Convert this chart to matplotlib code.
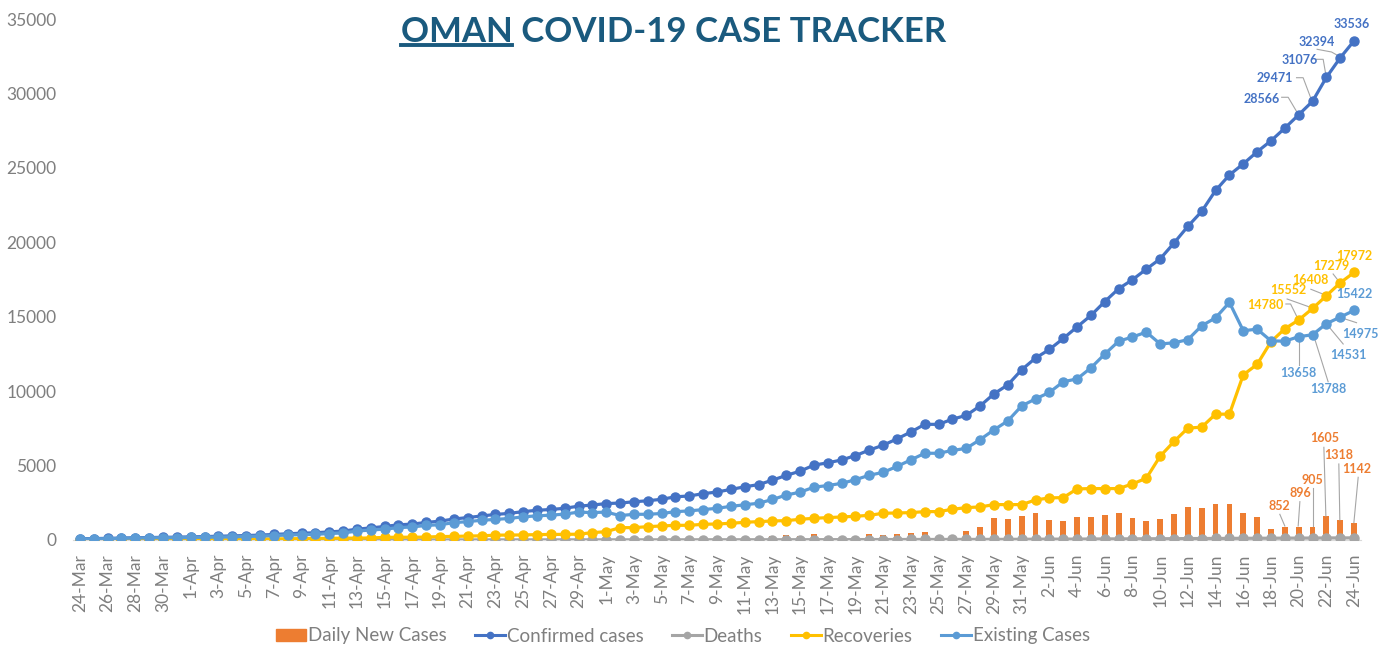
"""
Oman COVID-19 case tracker: daily new cases (bars) plus cumulative
confirmed / deaths / recoveries / existing cases (lines), 24-Mar to 24-Jun.
"""

import numpy as np
import pandas as pd
import matplotlib
matplotlib.use("Agg")
import matplotlib.pyplot as plt
from matplotlib.lines import Line2D
from matplotlib.patches import Patch

plt.rcParams["font.family"] = ["Lato", "DejaVu Sans"]

# DATA
dates = pd.date_range("2020-03-24", "2020-06-24", freq="D")

confirmed = [84, 99, 109, 131, 152, 167, 179, 192, 210, 231,
             252, 277, 298, 331, 371, 419, 457, 484, 546, 599,
             727, 813, 910, 1019, 1069, 1180, 1266, 1410, 1508, 1614,
             1716, 1790, 1905, 1998, 2049, 2131, 2274, 2348, 2447, 2483,
             2568, 2637, 2735, 2903, 2958, 3112, 3224, 3399, 3573, 3721,
             4019, 4341, 4625, 5029, 5186, 5379, 5671, 6043, 6370, 6794,
             7257, 7770, 7770, 8118, 8373, 9009, 9820, 10423, 11437, 12223,
             12799, 13538, 14316, 15086, 16016, 16882, 17486, 18198, 18887, 19954,
             21071, 22077, 23481, 24524, 25269, 26079, 26818, 27670, 28566, 29471,
             31076, 32394, 33536]

deaths = [0, 0, 0, 0, 0, 0, 0, 1, 1, 1,
          1, 2, 2, 2, 2, 2, 3, 3, 3, 3,
          4, 4, 4, 4, 6, 6, 6, 7, 8, 8,
          9, 9, 10, 10, 10, 11, 11, 11, 12, 12,
          12, 12, 12, 13, 14, 16, 17, 17, 18, 18,
          19, 19, 20, 22, 24, 25, 27, 30, 31, 32,
          35, 36, 36, 37, 40, 40, 42, 42, 49, 53,
          57, 59, 62, 67, 72, 75, 78, 82, 85, 89,
          96, 99, 104, 108, 114, 116, 120, 124, 128, 131,
          137, 140, 142]

recoveries = [17, 17, 23, 23, 23, 23, 23, 34, 41, 41,
              57, 61, 61, 72, 72, 83, 94, 103, 109, 124,
              124, 138, 176, 186, 186, 195, 233, 238, 265, 280,
              325, 333, 340, 364, 372, 380, 390, 495, 560, 830,
              830, 897, 942, 987, 987, 1054, 1077, 1122, 1189, 1234,
              1279, 1301, 1391, 1458, 1503, 1548, 1593, 1660, 1795, 1817,
              1839, 1907, 1907, 2064, 2176, 2221, 2378, 2378, 2378, 2692,
              2827, 2849, 3432, 3455, 3455, 3455, 3769, 4150, 5631, 6618,
              7516, 7583, 8454, 8454, 11097, 11797, 13320, 14190, 14780, 15552,
              16408, 17279, 17972]

existing = [67, 82, 86, 108, 129, 144, 156, 157, 168, 189,
            194, 214, 235, 257, 297, 334, 360, 378, 434, 472,
            599, 671, 730, 829, 877, 979, 1027, 1165, 1235, 1326,
            1382, 1448, 1555, 1624, 1667, 1740, 1873, 1842, 1875, 1641,
            1726, 1728, 1781, 1903, 1957, 2042, 2130, 2260, 2366, 2469,
            2721, 3021, 3214, 3549, 3659, 3806, 4051, 4353, 4544, 4945,
            5383, 5827, 5827, 6017, 6157, 6748, 7400, 8003, 9010, 9478,
            9915, 10630, 10822, 11564, 12489, 13352, 13639, 13966, 13171, 13247,
            13459, 14395, 14923, 15962, 14058, 14166, 13378, 13356, 13658, 13788,
            14531, 14975, 15422]

daily_new = [18, 15, 10, 22, 21, 15, 12, 13, 18, 21,
             21, 25, 21, 33, 40, 48, 38, 27, 62, 53,
             128, 86, 97, 109, 50, 111, 86, 144, 98, 106,
             102, 74, 115, 93, 51, 82, 143, 74, 99, 36,
             85, 69, 98, 168, 55, 154, 112, 175, 174, 148,
             298, 322, 284, 404, 157, 193, 292, 372, 327, 424,
             463, 513, 0, 348, 606, 897, 1458, 1413, 1615, 1795,
             1346, 1301, 1526, 1548, 1705, 1795, 1481, 1301, 1400, 1750,
             2199, 2132, 2423, 2445, 1795, 1548, 740, 852, 896, 905,
             1605, 1318, 1142]

tick_labels = [f"{d.day}-{d.strftime('%b')}" for d in dates]

# colours
ORANGE = "#ED7D31"
BLUE = "#4472C4"
GREY = "#A5A5A5"
GOLD = "#FFC000"
LBLUE = "#5B9BD5"
TEXT_GREY = "#7F7F7F"
TITLE = "#1A5A7E"

# FIGURE
W, H = 1388, 649
fig = plt.figure(figsize=(W / 100, H / 100), dpi=100)
ax = fig.add_axes([73 / W, 109 / H, 1288 / W, 521 / H])

x = np.arange(len(dates))
ax.bar(x, daily_new, width=0.42, color=ORANGE, zorder=2)
ax.plot(x, confirmed, "-o", color=BLUE, lw=2.3, ms=6.5, zorder=3)
ax.plot(x, deaths, "-o", color=GREY, lw=2.3, ms=6.5, zorder=3)
ax.plot(x, recoveries, "-o", color=GOLD, lw=2.3, ms=6.5, zorder=3)
ax.plot(x, existing, "-o", color=LBLUE, lw=2.3, ms=6.5, zorder=3)

ax.set_xlim(-0.5, len(x) - 0.5)
ax.set_ylim(0, 35000)
ax.set_yticks(range(0, 35001, 5000))
ax.set_xticks(x[::2])
ax.set_xticklabels(tick_labels[::2], rotation=90)
ax.tick_params(length=0, labelsize=12.5, labelcolor=TEXT_GREY)
ax.tick_params(axis="y", pad=12)
ax.tick_params(axis="x", pad=10)
for side in ("top", "right", "left"):
    ax.spines[side].set_visible(False)
ax.spines["bottom"].set_color("#D9D9D9")

# data labels with leader lines (offsets in pixels from the point)
def label_point(xi, yi, text, color, offset, leader=None):
    ax.annotate(text, (xi, yi), xytext=offset, textcoords="offset pixels",
                ha="center", va="center", fontsize=9, fontweight="bold",
                color=color, zorder=6, annotation_clip=False)
    if leader:
        px, py = ax.transData.transform((xi, yi))
        inv = ax.transData.inverted()
        pts = [inv.transform((px + dx, py + dy)) for dx, dy in leader]
        ax.plot([p[0] for p in pts], [p[1] for p in pts], color="#A6A6A6",
                lw=0.8, zorder=2.5, clip_on=False)

conf_labels = [
    (88, (-37, 16), [(-17, 17.5), (-10.5, 17.5), (-1.8, 2.8)]),
    (89, (-37.7, 23.6), [(-16, 23.6), (-9.4, 23.6), (-1, 1.3)]),
    (90, (-26.5, 17.4), [(-9.8, 18.1), (-3.2, 18.1), (-0.5, 2.4)]),
    (91, (-23.7, 15.8), [(-23.1, 8.5), (-8.7, 5.8), (-0.4, 1.1)]),
    (92, (-2.5, 16.8), None),
]
rec_labels = [
    (88, (-33.5, 15), [(-12.8, 16), (-8.1, 16), (-0.5, 0.7)]),
    (89, (-24.4, 18.5), [(-25.4, 9.5), (-1, 0.8)]),
    (90, (-15.8, 15.8), [(-15.5, 6.5), (-0.5, 0.5)]),
    (91, (-8.7, 17.1), [(-7.1, 8.8), (-1.1, 1.1)]),
    (92, (0, 16.5), None),
]
ex_labels = [
    (88, (0, -36), [(0, -28.3), (0, -1.3)]),
    (89, (15.6, -54.6), [(15.6, -47), (1.3, -1.3)]),
    (90, (21.8, -31.3), [(16.8, -20.3), (0.2, -0.3)]),
    (91, (20.3, -16.9), [(16.3, -5.6), (-0.4, -0.2)]),
    (92, (0, 16.4), None),
]
new_labels = [
    (87, (-5.7, 21.3), [(-5, 13), (0, 1.3)]),
    (88, (1.9, 34), [(1.2, 25), (-0.5, 0.7)]),
    (89, (0, 46.5), [(0, 38.2), (0, 0.5)]),
    (90, (-1.5, 77.8), [(-2.5, 68.8), (-0.5, 0)]),
    (91, (-1.4, 65.4), [(-1.4, 56.4), (-0.4, 0.4)]),
    (92, (3.1, 53.7), [(4.1, 45.7), (-0.2, 0.3)]),
]

for series, labels, color in [(confirmed, conf_labels, BLUE),
                              (recoveries, rec_labels, GOLD),
                              (existing, ex_labels, LBLUE),
                              (daily_new, new_labels, ORANGE)]:
    for i, off, lead in labels:
        label_point(i, series[i], str(series[i]), color, off, lead)

# legend
handles = [
    Patch(color=ORANGE),
    Line2D([], [], color=BLUE, lw=2.2, marker="o", ms=4.5),
    Line2D([], [], color=GREY, lw=2.2, marker="o", ms=4.5),
    Line2D([], [], color=GOLD, lw=2.2, marker="o", ms=4.5),
    Line2D([], [], color=LBLUE, lw=2.2, marker="o", ms=4.5),
]
names = ["Daily New Cases", "Confirmed cases", "Deaths", "Recoveries", "Existing Cases"]
fig.legend(handles, names, loc="center", bbox_to_anchor=(683 / W, 1 - 636 / H), ncol=5,
           frameon=False, fontsize=13.5, handlelength=1.6, handleheight=0.55,
           handletextpad=0.1, columnspacing=1.5, labelcolor=TEXT_GREY)

# title with underlined "OMAN"
base_y = 1 - 41.7 / H
title = fig.text(0.485, base_y, "OMAN COVID-19 CASE TRACKER", ha="center",
                 va="baseline", fontsize=25, fontweight="bold", color=TITLE)
renderer = fig.canvas.get_renderer()
bb = title.get_window_extent(renderer)
tmp = fig.text(0, 0, "OMAN", fontsize=25, fontweight="bold")
w_oman = tmp.get_window_extent(renderer).width
tmp.remove()
fig.add_artist(Line2D([bb.x0 / W, (bb.x0 + w_oman) / W],
                      [base_y - 3.5 / H, base_y - 3.5 / H],
                      transform=fig.transFigure, color=TITLE, lw=2.8))

fig.savefig("out.png", dpi=100)
